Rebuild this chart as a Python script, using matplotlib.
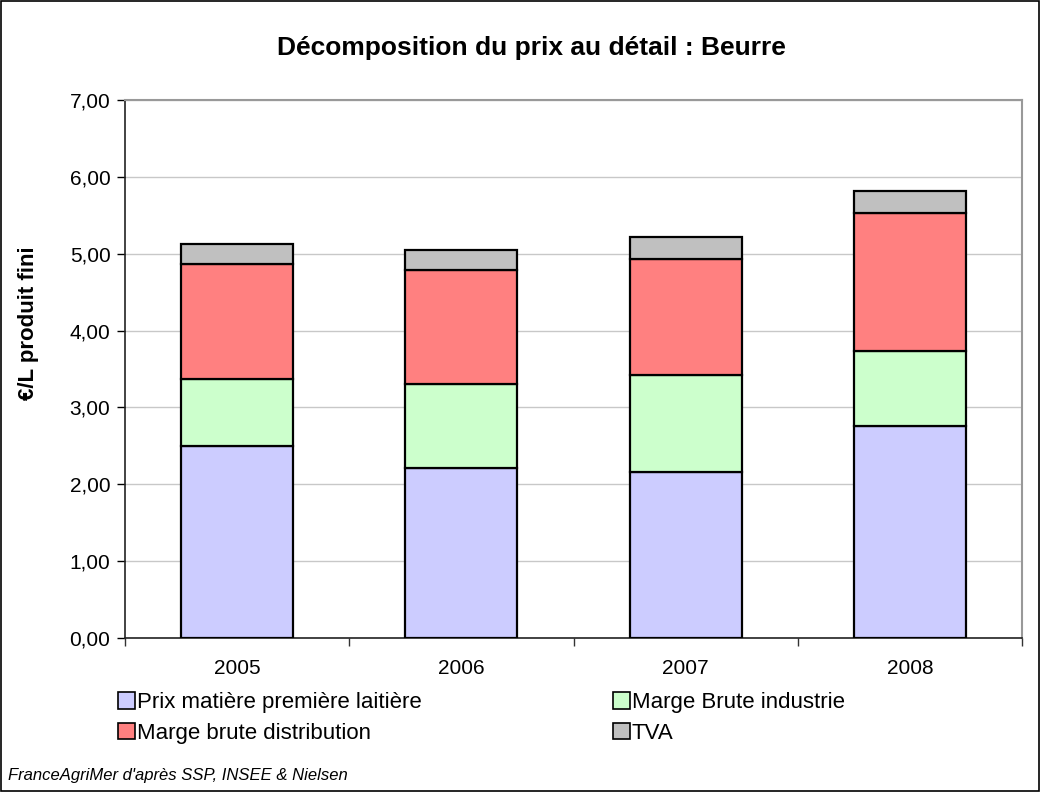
import matplotlib
matplotlib.use("Agg")
import matplotlib.pyplot as plt
from matplotlib.patches import Patch, Rectangle
from matplotlib.ticker import FuncFormatter

plt.rcParams['font.family'] = ['Liberation Sans', 'DejaVu Sans']

years = ["2005", "2006", "2007", "2008"]
prix_matiere = [2.50, 2.21, 2.16, 2.76]
marge_industrie = [0.87, 1.10, 1.265, 0.98]
marge_distribution = [1.495, 1.475, 1.505, 1.79]
tva = [0.26, 0.26, 0.285, 0.29]

series_names = ["Prix matière première laitière", "Marge Brute industrie",
                "Marge brute distribution", "TVA"]
series = [prix_matiere, marge_industrie, marge_distribution, tva]
colors = ["#ccccff", "#ccffcc", "#ff8080", "#c0c0c0"]

fig = plt.figure(figsize=(10.4, 7.92), dpi=100)
ax = fig.add_axes([0.1202, 0.1944, 0.8625, 0.6793])

x = list(range(len(years)))
bottom = [0.0] * len(years)
for vals, col in zip(series, colors):
    ax.bar(x, vals, 0.5, bottom=bottom, color=col, edgecolor="black",
           linewidth=1.6, zorder=3)
    bottom = [b + v for b, v in zip(bottom, vals)]

ax.set_xlim(-0.5, 3.5)
ax.set_ylim(0, 7)
ax.set_yticks([0, 1, 2, 3, 4, 5, 6, 7])
ax.yaxis.set_major_formatter(FuncFormatter(lambda v, p: f"{v:.2f}".replace(".", ",")))
ax.grid(axis="y", color="#c8c8c8", linewidth=1, zorder=0)

ax.set_xticks(x)
ax.set_xticklabels(years)
ax.set_xticks([-0.5, 0.5, 1.5, 2.5, 3.5], minor=True)
ax.tick_params(axis="x", which="major", length=0, pad=15, labelsize=15)
ax.tick_params(axis="x", which="minor", length=6, width=1, color="#333333")
ax.tick_params(axis="y", length=5.5, width=1, labelsize=15, pad=5)

for side in ["top", "right"]:
    ax.spines[side].set_color("#999999")
    ax.spines[side].set_linewidth(1.5)
for side in ["left", "bottom"]:
    ax.spines[side].set_color("#222222")
    ax.spines[side].set_linewidth(1.2)

# y label sits a bit above the axis centre in the original
fig.text(0.027, 0.592, "€/L produit fini", rotation=90, ha="center", va="center",
         fontsize=16, fontweight="bold")

fig.text(0.511, 0.939, "Décomposition du prix au détail : Beurre",
         ha="center", va="center", fontsize=19, fontweight="bold")

# matplotlib fills legend columns first, so reorder to get rows like the reference
order = [0, 2, 1, 3]
handles = [Patch(facecolor=colors[i], edgecolor="black", linewidth=1.2) for i in order]
labels = [series_names[i] for i in order]
leg = fig.legend(handles, labels, ncol=2, loc="upper left",
                 bbox_to_anchor=(0.103, 0.140), frameon=False, fontsize=16,
                 handlelength=0.75, handleheight=0.75, handletextpad=0.1,
                 columnspacing=8.6, labelspacing=0.42, borderpad=0)

fig.text(0.008, 0.021, "FranceAgriMer d'après SSP, INSEE & Nielsen",
         fontsize=12, style="italic", ha="left", va="center")

fig.patches.append(Rectangle((0.001, 0.001), 0.998, 0.998, transform=fig.transFigure,
                             fill=False, edgecolor="black", linewidth=1.2))

fig.savefig("out.png", dpi=100)
